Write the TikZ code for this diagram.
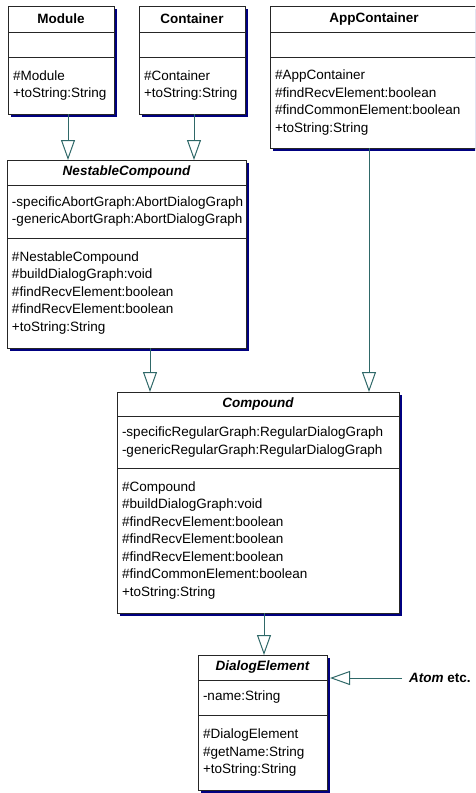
\documentclass[tikz,border=0pt]{standalone}
\usepackage{fontspec}
\setmainfont{Liberation Sans}
\usetikzlibrary{positioning,shadows,arrows.meta,calc}
\definecolor{linkteal}{RGB}{47,104,104}
\definecolor{shadownavy}{RGB}{0,0,128}

\begin{document}
\begin{tikzpicture}[x=1pt,y=-1pt,node distance=0pt,
  font=\fontsize{13.5}{17.5}\selectfont,
  inherits/.style={draw=linkteal,line width=1pt,-{Triangle[length=20pt,width=14pt,fill=white]}},
  class box/.style={draw=black!85,fill=white,line width=1pt,outer sep=0pt,inner xsep=5pt,inner ysep=3pt,
    drop shadow={shadow xshift=3pt,shadow yshift=-3pt,fill=shadownavy,opacity=1}},
  class head/.style={class box,font=\fontsize{13.5}{17.5}\selectfont\bfseries,align=center,minimum height=25pt},
  class part/.style={class box,align=left}]
  \clip (0,0) rectangle (475,793);
  % top row
  \node[class head,text width=96pt,minimum height=26pt,anchor=north west] (mod-h) at (8,6) {Module};
  \node[class part,text width=96pt,minimum height=25pt,below=of mod-h] (mod-a) {};
  \node[class part,text width=96pt,minimum height=57pt,below=of mod-a] (mod-o) {\#Module\\+toString:String};

  \node[class head,text width=96pt,minimum height=26pt,anchor=north west] (con-h) at (139,6) {Container};
  \node[class part,text width=96pt,minimum height=25pt,below=of con-h] (con-a) {};
  \node[class part,text width=96pt,minimum height=57pt,below=of con-a] (con-o) {\#Container\\+toString:String};

  \node[class head,text width=198pt,minimum height=26pt,anchor=north west] (app-h) at (270,6) {AppContainer};
  \node[class part,text width=198pt,minimum height=25pt,below=of app-h] (app-a) {};
  \node[class part,text width=198pt,minimum height=91pt,below=of app-a] (app-o)
    {\#AppContainer\\\#findRecvElement:boolean\\\#findCommonElement:boolean\\+toString:String};

  % abstract classes
  \node[class head,text width=229pt,anchor=north west] (nest-h) at (7,160) {\itshape NestableCompound};
  \node[class part,text width=229pt,minimum height=53pt,below=of nest-h] (nest-a)
    {\mbox{-specificAbortGraph:AbortDialogGraph}\\\mbox{-genericAbortGraph:AbortDialogGraph}};
  \node[class part,text width=229pt,minimum height=110pt,below=of nest-a] (nest-o)
    {\#NestableCompound\\\#buildDialogGraph:void\\\#findRecvElement:boolean\\\#findRecvElement:boolean\\+toString:String};

  \node[class head,text width=272pt,minimum height=24pt,anchor=north west] (comp-h) at (117,392) {\itshape Compound};
  \node[class part,text width=272pt,minimum height=52pt,below=of comp-h] (comp-a)
    {\mbox{-specificRegularGraph:RegularDialogGraph}\\\mbox{-genericRegularGraph:RegularDialogGraph}};
  \node[class part,text width=272pt,minimum height=145pt,below=of comp-a] (comp-o)
    {\#Compound\\\#buildDialogGraph:void\\\#findRecvElement:boolean\\\#findRecvElement:boolean\\\#findRecvElement:boolean\\\#findCommonElement:boolean\\+toString:String};

  \node[class head,text width=119pt,anchor=north west] (dlg-h) at (198,655) {\itshape DialogElement};
  \node[class part,text width=119pt,minimum height=35pt,below=of dlg-h] (dlg-a) {-name:String};
  \node[class part,text width=119pt,minimum height=75pt,below=of dlg-a] (dlg-o)
    {\#DialogElement\\\#getName:String\\+toString:String};

  \node[font=\fontsize{13.5}{17.5}\selectfont\bfseries,inner sep=0pt,anchor=west] (atom) at (409,678) {\itshape Atom\/\upshape{} etc.};

  % generalizations
  \draw[inherits] ($(mod-o.south)+(7,0)$) -- ($(mod-o.south |- nest-h.north)+(7,0)$);
  \draw[inherits] ($(con-o.south)+(2,0)$) -- ($(con-o.south |- nest-h.north)+(2,0)$);
  \draw[inherits] ($(app-o.south)+(-5,0)$) -- ($(app-o.south |- comp-h.north)+(-5,0)$);
  \draw[inherits] ($(nest-o.south)+(23.5,0)$) -- ($(nest-o.south |- comp-h.north)+(23.5,0)$);
  \draw[inherits] ($(comp-o.south)+(6,0)$) -- ($(comp-o.south |- dlg-h.north)+(6,0)$);
  \draw[inherits] ($(atom.west)+(-7,0)$) -- ($(atom.west -| dlg-h.east)+(3,0)$);
\end{tikzpicture}
\end{document}
